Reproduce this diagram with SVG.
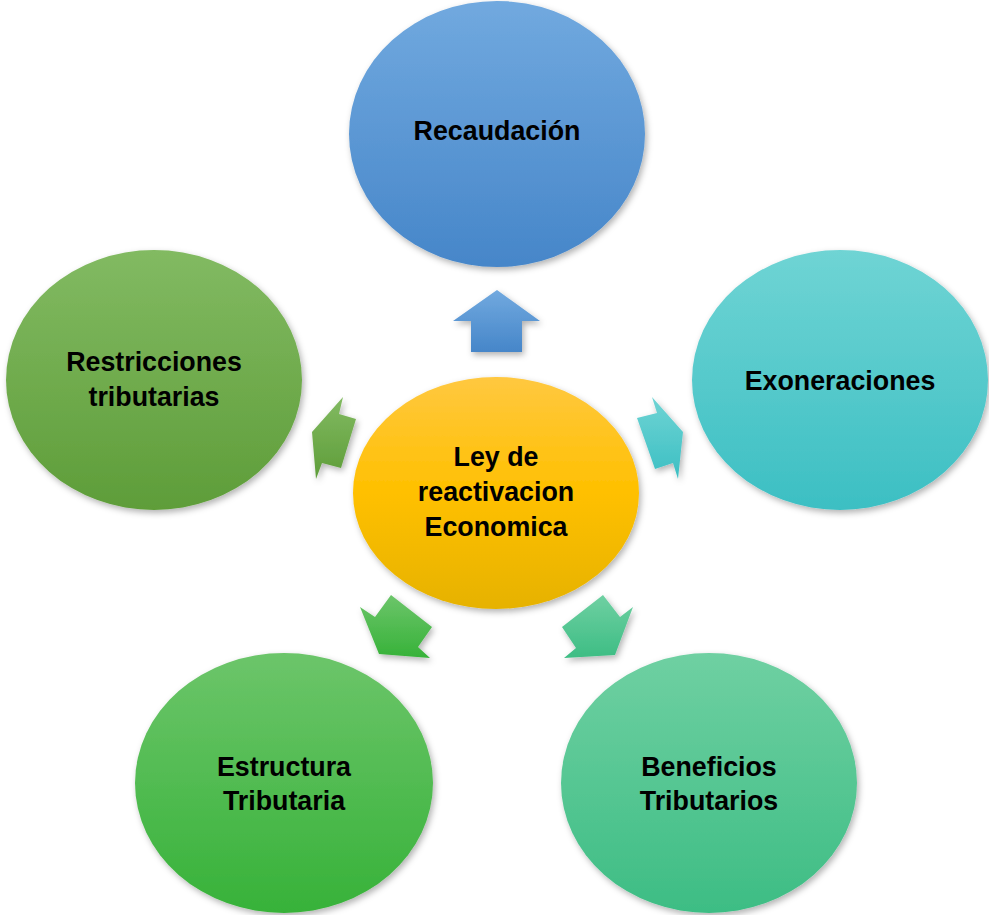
<svg xmlns="http://www.w3.org/2000/svg" width="989" height="915" viewBox="0 0 989 915">
<defs>
<linearGradient id="gBlue" x1="0" y1="0" x2="0" y2="1"><stop offset="0" stop-color="#71a9df"/><stop offset="1" stop-color="#4686c9"/></linearGradient>
<linearGradient id="gCyan" x1="0" y1="0" x2="0" y2="1"><stop offset="0" stop-color="#6fd4d4"/><stop offset="1" stop-color="#3cbfc3"/></linearGradient>
<linearGradient id="gOlive" x1="0" y1="0" x2="0" y2="1"><stop offset="0" stop-color="#82ba62"/><stop offset="1" stop-color="#5e9d39"/></linearGradient>
<linearGradient id="gGreen" x1="0" y1="0" x2="0" y2="1"><stop offset="0" stop-color="#6cc56a"/><stop offset="1" stop-color="#37b239"/></linearGradient>
<linearGradient id="gMint" x1="0" y1="0" x2="0" y2="1"><stop offset="0" stop-color="#6fd0a2"/><stop offset="1" stop-color="#3dbd84"/></linearGradient>
<linearGradient id="gGold" x1="0" y1="0" x2="0" y2="1"><stop offset="0" stop-color="#ffc840"/><stop offset="0.5" stop-color="#ffc000"/><stop offset="1" stop-color="#e6b200"/></linearGradient>
<filter id="sh" x="-10%" y="-10%" width="125%" height="125%"><feDropShadow dx="2" dy="3" stdDeviation="3" flood-color="#000" flood-opacity="0.3"/></filter>
</defs>
<style>
.t{font-family:"Liberation Sans",Arial,sans-serif;font-weight:bold;font-size:26.8px;fill:#000;text-anchor:middle;dominant-baseline:central}
</style>
<g id="connectors" filter="url(#sh)">
<polygon fill="url(#gBlue)" points="497,290 540,321 522,321 522,352 471,352 471,321 453,321"/>
<polygon fill="url(#gCyan)" points="652,397 657,413 637,418 655,469 673,463 678,479 683,432"/>
<polygon fill="url(#gOlive)" points="343,397 339,414 356,419 341,468 322,463 316,479 312,432"/>
<polygon fill="url(#gGreen)" points="360,607 375,617 391,595 432,627 418,647 430,658 379,654"/>
<polygon fill="url(#gMint)" points="633,607 620,617 603,595 562,627 576,648 564,658 615,655"/>
</g>
<g id="recaudacion"><ellipse cx="497" cy="134" rx="148" ry="133" fill="url(#gBlue)" filter="url(#sh)"/><text class="t" x="497" y="131">Recaudación</text></g>
<g id="exoneraciones"><ellipse cx="840" cy="380" rx="148" ry="130" fill="url(#gCyan)" filter="url(#sh)"/><text class="t" x="840" y="381">Exoneraciones</text></g>
<g id="restricciones"><ellipse cx="154" cy="380" rx="148" ry="130" fill="url(#gOlive)" filter="url(#sh)"/><text class="t" x="154" y="362">Restricciones</text><text class="t" x="154" y="397">tributarias</text></g>
<g id="ley"><ellipse cx="496" cy="493" rx="143" ry="116" fill="url(#gGold)" filter="url(#sh)"/><text class="t" x="496" y="457">Ley de</text><text class="t" x="496" y="492">reactivacion</text><text class="t" x="496" y="527">Economica</text></g>
<g id="estructura"><ellipse cx="284" cy="783" rx="149" ry="130" fill="url(#gGreen)" filter="url(#sh)"/><text class="t" x="284" y="767">Estructura</text><text class="t" x="284" y="801">Tributaria</text></g>
<g id="beneficios"><ellipse cx="709" cy="783" rx="148" ry="130" fill="url(#gMint)" filter="url(#sh)"/><text class="t" x="709" y="767">Beneficios</text><text class="t" x="709" y="801">Tributarios</text></g>
</svg>
